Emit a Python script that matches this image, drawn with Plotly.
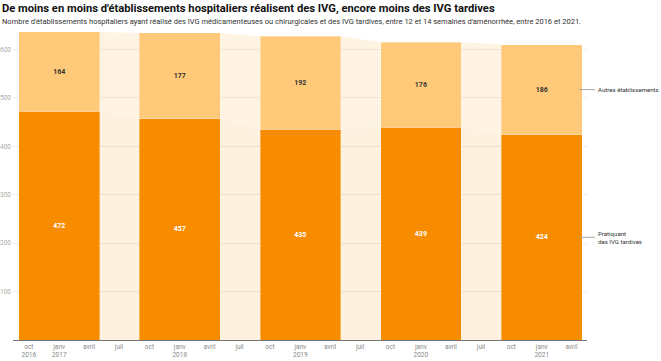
import plotly.graph_objects as go
import pandas as pd

# Data
years = ["2017-01-01", "2018-01-01", "2019-01-01", "2020-01-01", "2021-01-01"]
pratiquant = [472, 457, 435, 439, 424]
autres = [164, 177, 192, 176, 186]
series_names = ["Pratiquant<br>des IVG tardives", "Autres établissements"]
tick_dates = ["2016-10-01", "2017-01-01", "2017-04-01", "2017-07-01",
              "2017-10-01", "2018-01-01", "2018-04-01", "2018-07-01",
              "2018-10-01", "2019-01-01", "2019-04-01", "2019-07-01",
              "2019-10-01", "2020-01-01", "2020-04-01", "2020-07-01",
              "2020-10-01", "2021-01-01", "2021-04-01"]
tick_labels = ["oct<br>2016", "janv<br>2017", "avril", "juil",
               "oct", "janv<br>2018", "avril", "juil",
               "oct", "janv<br>2019", "avril", "juil",
               "oct", "janv<br>2020", "avril", "juil",
               "oct", "janv<br>2021", "avril"]

DARK = "rgb(248,140,0)"
LIGHT = "rgb(254,201,120)"
bar_days = 244
width_ms = bar_days * 86400000

fig = go.Figure()

centers = [pd.Timestamp(y) for y in years]
half = pd.Timedelta(days=bar_days / 2)
totals = [p + a for p, a in zip(pratiquant, autres)]

# connecting areas between bars
for i in range(len(centers) - 1):
    x0 = centers[i] + half
    x1 = centers[i + 1] - half
    fig.add_trace(go.Scatter(
        x=[x0, x0, x1, x1, x0], y=[0, pratiquant[i], pratiquant[i + 1], 0, 0],
        fill="toself", fillcolor="rgba(248,140,0,0.12)", mode="lines",
        line=dict(width=0), hoverinfo="skip", showlegend=False))
    fig.add_trace(go.Scatter(
        x=[x0, x0, x1, x1, x0],
        y=[pratiquant[i], totals[i], totals[i + 1], pratiquant[i + 1], pratiquant[i]],
        fill="toself", fillcolor="rgba(254,201,120,0.2)", mode="lines",
        line=dict(width=0), hoverinfo="skip", showlegend=False))

fig.add_trace(go.Bar(
    x=years, y=pratiquant, width=[width_ms] * len(years),
    marker=dict(color=DARK, line=dict(color="rgba(255,255,255,0.6)", width=0.6)),
    text=[f"<b>{v}</b>" for v in pratiquant], textposition="inside",
    insidetextanchor="middle", textangle=0,
    textfont=dict(color="white", size=7, family="Roboto"),
    showlegend=False, name=series_names[0]))
fig.add_trace(go.Bar(
    x=years, y=autres, width=[width_ms] * len(years),
    marker=dict(color=LIGHT, line=dict(color="rgba(255,255,255,0.6)", width=0.6)),
    text=[f"<b>{v}</b>" for v in autres], textposition="inside",
    insidetextanchor="middle", textangle=0,
    textfont=dict(color="#333333", size=7, family="Roboto"),
    showlegend=False, name=series_names[1]))

plot_w = 661 - 13 - 74
fig.update_layout(
    barmode="stack",
    width=661, height=361,
    margin=dict(l=13, r=74, t=30, b=21),
    paper_bgcolor="white", plot_bgcolor="white",
    font=dict(family="Roboto", color="#333"),
    xaxis=dict(type="date", range=["2016-08-14", "2021-05-18"],
               tickvals=tick_dates, ticktext=tick_labels,
               tickfont=dict(size=6.5, color="#888"), showgrid=False,
               showline=True, linecolor="#777", linewidth=1, ticks="",
               zeroline=False, fixedrange=True, automargin=False),
    yaxis=dict(range=[0, 640], tickvals=[100, 200, 300, 400, 500, 600],
               tickfont=dict(size=6.5, color="#aaa"), showgrid=True,
               gridcolor="#ececec", gridwidth=1, zeroline=False,
               ticks="", ticklabelstandoff=1, layer="below traces",
               automargin=False),
    uniformtext=dict(minsize=6, mode="show"),
)

# right side labels
last_mid = [pratiquant[-1] / 2, pratiquant[-1] + autres[-1] / 2]
for name, ymid in zip(series_names, last_mid):
    fig.add_shape(type="line", xref="paper", yref="y",
                  x0=1 - 8 / plot_w, x1=1 + 8 / plot_w, y0=ymid, y1=ymid,
                  line=dict(color="#aaa", width=1))
    fig.add_annotation(xref="paper", yref="y", x=1 + 9 / plot_w, y=ymid,
                       text=name, showarrow=False, xanchor="left",
                       yanchor="middle", align="left",
                       font=dict(size=6.1, color="#333"))

fig.add_annotation(xref="paper", yref="paper", x=-13 / plot_w, y=1,
                   yshift=30 - 8, text="<b>De moins en moins d'établissements hospitaliers réalisent des IVG, encore moins des IVG tardives</b>",
                   showarrow=False, xanchor="left", yanchor="middle",
                   font=dict(size=11.2, color="#111"))
fig.add_annotation(xref="paper", yref="paper", x=-13 / plot_w, y=1,
                   yshift=30 - 21, text="Nombre d'établissements hospitaliers ayant réalisé des IVG médicamenteuses ou chirurgicales et des IVG tardives, entre 12 et 14 semaines d'aménorrhée, entre 2016 et 2021.",
                   showarrow=False, xanchor="left", yanchor="middle",
                   font=dict(size=7.5, color="#333"))

fig.write_html("out.html", config={"displayModeBar": False},
               post_script="document.body.style.margin='0';document.body.style.overflow='hidden';")
